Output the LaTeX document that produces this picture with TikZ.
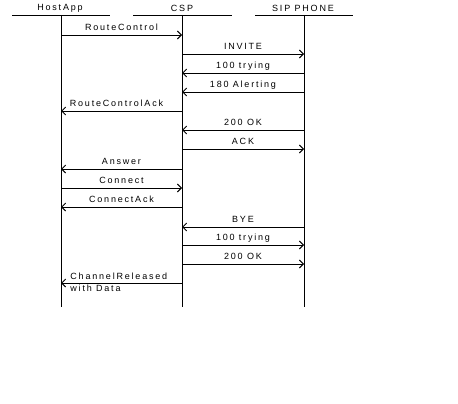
\documentclass[tikz,border=0pt]{standalone}
\usepackage{fontspec}
\newfontfamily\seqfont[LetterSpace=20]{Liberation Sans}
\usetikzlibrary{arrows.meta}

\begin{document}
\begin{tikzpicture}[x=1pt, y=-1pt, line width=0.9pt,
  party/.style={font=\seqfont\fontsize{9}{11}\selectfont, inner sep=1pt},
  msg/.style={->, >={Straight Barb[length=4pt,width=8pt]}},
  lbl/.style={font=\seqfont\fontsize{9}{12}\selectfont, anchor=south, text depth=0pt, inner sep=1pt, yshift=3.5pt}]

  \useasboundingbox (0,0) rectangle (458,404);

  % Define the parties
  \node[party] (host) at (60,8.5) {HostApp};
  \node[party] (csp) at (182,8.5) {CSP};
  \node[party] (sip) at (303,8.5) {SIP PHONE};

  % Header bars
  \draw (12,15) -- (110,15);
  \draw (133,15) -- (232,15);
  \draw (255,15) -- (353,15);

  % Lifelines
  \coordinate (hostTop) at (61,15);
  \coordinate (hostEnd) at (61,307);
  \coordinate (cspTop) at (182,15);
  \coordinate (cspEnd) at (182,307);
  \coordinate (sipTop) at (304,15);
  \coordinate (sipEnd) at (304,307);
  \draw (hostTop) -- (hostEnd);
  \draw (cspTop) -- (cspEnd);
  \draw (sipTop) -- (sipEnd);

  % Messages
  \draw[msg] (hostTop |- 0,35) -- node[lbl] {RouteControl} (cspTop |- 0,35);
  \draw[msg] (cspTop |- 0,54) -- node[lbl] {INVITE} (sipTop |- 0,54);
  \draw[msg] (sipTop |- 0,73) -- node[lbl] {100 trying} (cspTop |- 0,73);
  \draw[msg] (sipTop |- 0,92) -- node[lbl] {180 Alerting} (cspTop |- 0,92);
  \draw[msg] (cspTop |- 0,111) -- node[lbl, xshift=-5pt] {RouteControlAck} (hostTop |- 0,111);
  \draw[msg] (sipTop |- 0,130) -- node[lbl] {200 OK} (cspTop |- 0,130);
  \draw[msg] (cspTop |- 0,149) -- node[lbl] {ACK} (sipTop |- 0,149);
  \draw[msg] (cspTop |- 0,169) -- node[lbl] {Answer} (hostTop |- 0,169);
  \draw[msg] (hostTop |- 0,188) -- node[lbl] {Connect} (cspTop |- 0,188);
  \draw[msg] (cspTop |- 0,207) -- node[lbl] {ConnectAck} (hostTop |- 0,207);
  \draw[msg] (sipTop |- 0,227) -- node[lbl] {BYE} (cspTop |- 0,227);
  \draw[msg] (cspTop |- 0,245) -- node[lbl] {100 trying} (sipTop |- 0,245);
  \draw[msg] (cspTop |- 0,264) -- node[lbl] {200 OK} (sipTop |- 0,264);
  \draw[msg] (cspTop |- 0,283) -- node[pos=1, anchor=west, xshift=9pt, yshift=1pt, align=left, inner sep=0pt,
    font=\seqfont\fontsize{9}{12}\selectfont] {ChannelReleased\\with Data} (hostTop |- 0,283);

\end{tikzpicture}
\end{document}
